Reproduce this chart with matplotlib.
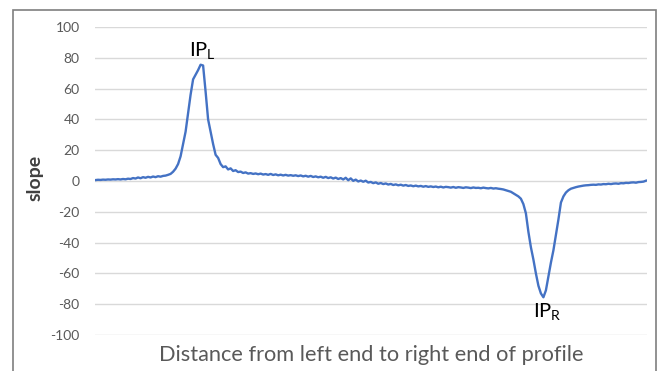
import matplotlib
matplotlib.use("Agg")
import matplotlib.pyplot as plt
from matplotlib.patches import Rectangle

plt.rcParams['font.family'] = ['Lato', 'DejaVu Sans']
plt.rcParams['mathtext.fontset'] = 'custom'
plt.rcParams['mathtext.rm'] = 'Lato'
plt.rcParams['mathtext.it'] = 'Lato'

# slope values along the profile (left to right)
slope = [
    0.6, 0.8, 0.7, 0.9, 0.8, 1.0, 0.9, 1.1, 1.0, 1.2, 1.0, 1.3, 1.1, 1.5, 1.3,
    1.9, 1.6, 2.3, 1.8, 2.5, 2.1, 2.7, 2.3, 2.9, 2.5, 3.1, 2.8, 3.3, 3.5,
    4.0, 4.6, 6.0, 8.0, 11.0, 16.0, 24.0, 32.0, 44.0, 56.0, 66.0, 69.0, 72.0,
    75.5, 75.0, 58.0, 40.0, 32.0, 24.0, 17.0, 15.0, 11.0, 9.0,
    9.5, 7.5, 8.2, 6.5, 7.0, 5.8, 6.1, 5.2, 5.6, 4.8, 5.1, 4.6, 4.9, 4.4,
    4.8, 4.2, 4.5, 4.0, 4.6, 3.9, 4.3, 3.7, 4.1, 3.6, 4.0, 3.5,
    3.8, 3.4, 3.7, 3.2, 3.6, 3.0, 3.4, 2.8, 3.3, 2.6, 3.0, 2.4, 2.8, 2.1,
    2.7, 1.9, 2.4, 1.6, 2.2, 1.3, 1.9, 1.0, 2.1, 0.5, 1.7, 0.1, 0.9, -0.3,
    0.3, -0.5, 0.2, -1.0, -0.6, -1.4, -0.9, -1.8, -1.3, -2.0, -1.6, -2.3,
    -1.9, -2.6, -2.2, -2.8, -2.4, -3.0, -2.6, -3.2, -2.9, -3.4, -3.0, -3.5,
    -3.2, -3.7, -3.3, -3.8, -3.5, -3.9, -3.6, -4.1, -3.7, -4.2, -3.8, -4.0,
    -4.3, -3.9, -4.4, -4.0, -4.2, -4.5, -4.1, -4.3, -4.6, -4.2, -4.5, -4.4,
    -4.7, -4.3, -4.6, -4.8, -4.5, -4.9, -4.7, -5.0,
    -5.2, -5.5, -6.0, -6.5, -7.0, -8.0, -9.0, -10.0, -11.5, -15.0, -21.0,
    -33.0, -43.0, -51.0, -60.0, -68.0, -73.0, -75.5, -71.0, -62.0, -53.0,
    -45.0, -35.0, -25.0, -14.0, -10.0, -7.5, -6.0, -5.0, -4.5, -4.0, -3.6,
    -3.3, -3.0, -2.8, -2.7, -2.5,
    -2.4, -2.5, -2.2, -2.3, -2.0, -2.1, -1.8, -2.0, -1.7, -1.6, -1.8, -1.4,
    -1.5, -1.2, -1.3, -1.0, -0.9, -1.1, -0.7, -0.6, -0.4, 0.2,
]
distance = list(range(len(slope)))

y_ticks = [-100, -80, -60, -40, -20, 0, 20, 40, 60, 80, 100]
label_left = "IP$_{\\mathrm{L}}$"
label_right = "IP$_{\\mathrm{R}}$"
x_title = "Distance from left end to right end of profile"
y_title = "slope"

fig = plt.figure(figsize=(6.59, 3.71), dpi=100)
fig.patch.set_facecolor('white')

# outer frame
frame = Rectangle((13 / 659, -0.1), (656 - 13) / 659, 1.1 - 10 / 371,
                  transform=fig.transFigure, fill=False,
                  edgecolor='#7f7f7f', linewidth=1.2, clip_on=False)
fig.patches.append(frame)

ax = fig.add_axes([95 / 659, (371 - 335) / 371, 552 / 659, 308 / 371])
ax.plot(distance, slope, color='#4472C4', linewidth=1.7)

ax.set_ylim(-100, 100)
ax.set_xlim(distance[0] - 0.2, distance[-1] + 0.4)
ax.set_yticks(y_ticks)
ax.set_yticklabels([str(v) for v in y_ticks])
ax.set_xticks([])
ax.grid(axis='y', color='#d9d9d9', linewidth=1.0)
ax.set_axisbelow(True)
for s in ax.spines.values():
    s.set_visible(False)
ax.tick_params(axis='y', length=0, pad=11, labelsize=10, labelcolor='#595959')

ax.set_ylabel(y_title, fontsize=14, fontweight='bold', color='#404040')
ax.yaxis.set_label_coords(-0.094, 0.511)
ax.set_xlabel(x_title, fontsize=15.7, color='#595959', labelpad=7)

ax.text(42.9, 85, label_left, fontsize=14.5, ha='center', va='center', color='black')
ax.text(180.4, -85, label_right, fontsize=14.5, ha='center', va='center', color='black')

fig.savefig('out.png', dpi=100, facecolor='white')
